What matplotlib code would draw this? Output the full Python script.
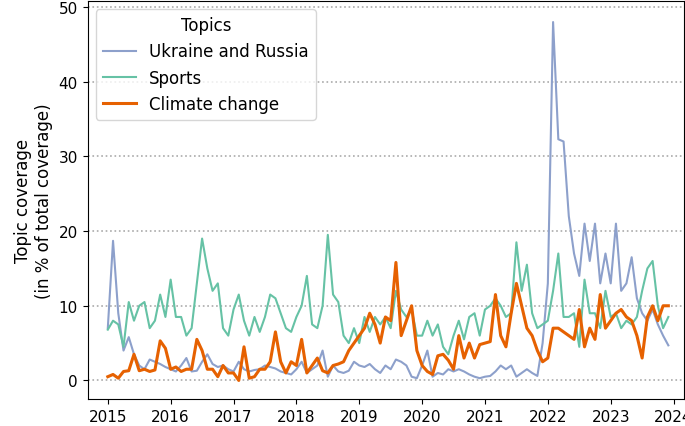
import matplotlib
matplotlib.use("Agg")
import matplotlib.pyplot as plt
import numpy as np

ukraine = [7,18.7,9,4,5.8,3.5,2,1.5,2.8,2.5,2.2,1.8,
           1.5,1.2,2,3,1.2,1.3,2.5,3.5,2.2,1.8,2,1.5,
           1.2,2.5,1.5,1.2,1.4,1.5,2,1.8,1.6,1.2,1,0.8,
           1.5,2.5,1,1.5,2,4,0.5,2,1.2,1,1.3,2.5,
           2,1.8,2.2,1.5,1,2,1.5,2.8,2.5,2,0.5,0.3,
           2,4,0.5,1,0.8,1.5,1.2,1.5,1.2,0.8,0.5,0.3,
           0.5,0.6,1.2,2,1.5,2,0.5,1,1.5,1,0.6,5,
           13,48,32.3,32,22,17,14,21,16,21,13,17,
           13,21,12,13,16.5,11,9,8,9.5,7.5,6,4.7]
sports = [6.8,8,7.5,4.5,10.5,8,10,10.5,7,8,11.5,8.5,
          13.5,8.5,8.5,6,7,13,19,15,12,13,7,6,
          9.5,11.5,8,6,8.5,6.5,8.5,11.5,11,9,7,6.5,
          8.5,10,14,7.5,7,10,19.5,11.5,10.5,6,5,7,
          5,8.5,6.5,8.5,7.5,8.5,7,12,9.5,8.5,9.5,6,
          6,8,6,7.5,4.5,3.5,6,8,5.5,8.5,9,6,
          9.5,10,11,10,8.5,9,18.5,12,15.5,9,7,7.5,
          8,12,17,8.5,8.5,9,4.5,13.5,9,9,7,12,
          8.5,9,7,8,7.5,8.5,12,15,16,10,7,8.5]
climate = [0.5,0.8,0.3,1.2,1.3,3.5,1.3,1.5,1.2,1.4,5.3,4.3,
           1.5,1.8,1.2,1.5,1.5,5.5,4,1.5,1.5,0.5,2,1,
           1,0,4.5,0.3,0.5,1.5,1.5,2.5,6.5,2.5,1,2.5,
           2,5.5,1,2,3,1.3,1,2,2.2,2.5,4,5,
           6,7,9,7.5,5,8.5,8,15.8,6,8,10,4,
           2,1.2,0.8,3.3,3.5,2.7,1.5,6,3,5,3,4.8,
           5,5.2,11.5,6,4.5,9,13,10,7,6,4,2.5,
           3,7,7,6.5,6,5.5,9.5,4.5,7,5.5,11.5,7,
           8,9,9.5,8.5,8,6,3,8.5,10,8,10,10]
n = min(len(ukraine), len(sports), len(climate))
x = 2015 + np.arange(n) / 12

fig, ax = plt.subplots(figsize=(6.85, 4.27), dpi=100)
ax.plot(x, ukraine[:n], color="#8da0cb", lw=1.5, label="Ukraine and Russia")
ax.plot(x, sports[:n], color="#66c2a5", lw=1.5, label="Sports")
ax.plot(x, climate[:n], color="#e66101", lw=2.2, label="Climate change")
ax.set_ylim(-2.5, 50.8)
ax.set_xlim(2014.68, 2024.16)
ax.set_yticks([0, 10, 20, 30, 40, 50])
ax.set_xticks(range(2015, 2025))
ax.yaxis.grid(True, linestyle=":", color="#aaaaaa", lw=1.2)
ax.tick_params(labelsize=11)
ax.set_ylabel("Topic coverage\n(in % of total coverage)", fontsize=12)
ax.legend(title="Topics", fontsize=12, title_fontsize=12, loc="upper left")
fig.subplots_adjust(left=0.128, right=0.998, top=0.995, bottom=0.063)
fig.savefig("out.png")
